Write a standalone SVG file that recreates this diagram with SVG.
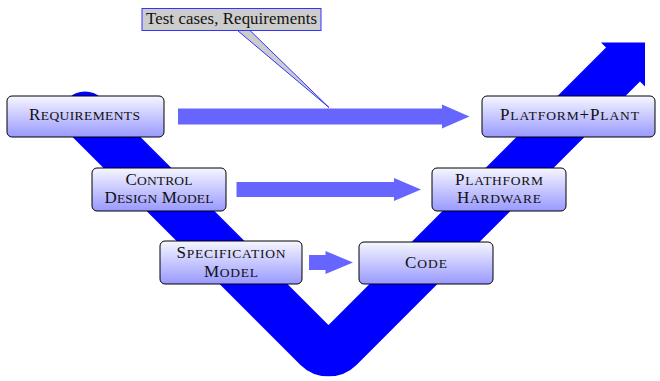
<svg xmlns="http://www.w3.org/2000/svg" width="660" height="381" viewBox="0 0 660 381">
<defs>
<linearGradient id="g" x1="0" y1="0" x2="0" y2="1">
<stop offset="0" stop-color="#f6f6ff"/>
<stop offset="1" stop-color="#9999ff"/>
</linearGradient>
</defs>
<style>
.box{fill:url(#g);stroke:#000;stroke-width:1}
.t{font-family:"Liberation Serif",serif;fill:#111;font-size:17px}
.s{font-size:13.5px}
.ha{fill:#6666ff}
</style>
<g id="connectors">
<circle cx="85" cy="115.5" r="24" fill="#0000ff"/>
<path d="M85,115.5 L317.2,347.7 A16,16 0 0 0 339.8,347.7 L626,61.5" fill="none" stroke="#0000ff" stroke-width="48" stroke-linecap="butt"/>
<polygon points="601,42.5 645,42.5 645,86.5" fill="#0000ff"/>
<polygon class="ha" points="178,108.5 442,108.5 442,104.5 469.5,116.5 442,128.5 442,124.5 178,124.5"/>
<polygon class="ha" points="236.5,182 394,182 394,178 421,189.5 394,201 394,197 236.5,197"/>
<polygon class="ha" points="309,255 325.5,255 325.5,251 353,262.5 325.5,274 325.5,270 309,270"/>
</g>
<g id="callout">
<polygon points="237.5,30.5 250,30.5 329,107.5" fill="#cccccc" stroke="#3333ff" stroke-width="1"/>
<rect x="142" y="8.5" width="179" height="22" fill="#cccccc" stroke="#3333ff" stroke-width="1"/>
<text class="t" x="146" y="24" textLength="171" lengthAdjust="spacing" style="font-size:16.8px">Test cases, Requirements</text>
</g>
<g id="requirements">
<rect class="box" x="7" y="96" width="157" height="41" rx="5"/>
<text class="t" x="29" y="120" textLength="111" lengthAdjust="spacing">R<tspan class="s">EQUIREMENTS</tspan></text>
</g>
<g id="platform-plant">
<rect class="box" x="482" y="96" width="173" height="41" rx="5"/>
<text class="t" x="500" y="120" textLength="139" lengthAdjust="spacing">P<tspan class="s">LATFORM</tspan>+P<tspan class="s">LANT</tspan></text>
</g>
<g id="control-design-model">
<rect class="box" x="92" y="168" width="134" height="43" rx="5"/>
<text class="t" x="125.5" y="184.5" textLength="67" lengthAdjust="spacing">C<tspan class="s">ONTROL</tspan></text>
<text class="t" x="104.5" y="202.5" textLength="109" lengthAdjust="spacing">D<tspan class="s">ESIGN</tspan> M<tspan class="s">ODEL</tspan></text>
</g>
<g id="plathform-hardware">
<rect class="box" x="432" y="168" width="134" height="43" rx="5"/>
<text class="t" x="455" y="184.5" textLength="88" lengthAdjust="spacing">P<tspan class="s">LATHFORM</tspan></text>
<text class="t" x="457" y="202.5" textLength="84" lengthAdjust="spacing">H<tspan class="s">ARDWARE</tspan></text>
</g>
<g id="specification-model">
<rect class="box" x="160" y="241" width="142" height="43" rx="5"/>
<text class="t" x="176.5" y="257.5" textLength="109" lengthAdjust="spacing">S<tspan class="s">PECIFICATION</tspan></text>
<text class="t" x="204" y="276.5" textLength="54" lengthAdjust="spacing">M<tspan class="s">ODEL</tspan></text>
</g>
<g id="code">
<rect class="box" x="359" y="242" width="134" height="42" rx="5"/>
<text class="t" x="405" y="268" textLength="42" lengthAdjust="spacing">C<tspan class="s">ODE</tspan></text>
</g>
</svg>
